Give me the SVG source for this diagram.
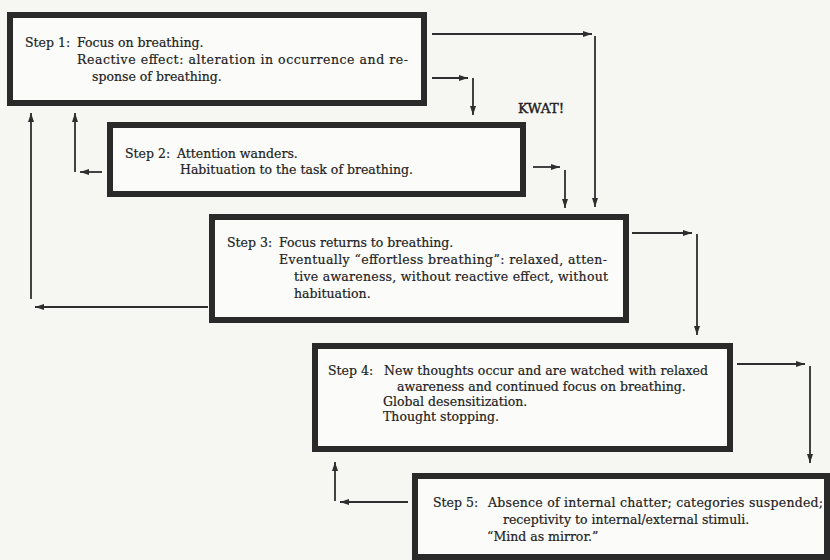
<svg xmlns="http://www.w3.org/2000/svg" width="830" height="560" viewBox="0 0 830 560">
<defs>
<marker id="ah" viewBox="0 0 9 6" refX="9" refY="3" markerWidth="9" markerHeight="6" orient="auto" markerUnits="userSpaceOnUse"><path d="M0,0 L9,3 L0,6 z" fill="#2e2e2e"/></marker>
<style>
.box{fill:#fbfbf9;stroke:#2a2a2a;stroke-width:6}
.t{font-family:"DejaVu Serif","Liberation Serif",serif;font-size:12.5px;fill:#222;stroke:#222;stroke-width:0.2}
.c{fill:none;stroke:#2e2e2e;stroke-width:1.8}
.a{marker-end:url(#ah)}
</style>
</defs>
<rect width="830" height="560" fill="#f6f6f3"/>
<g id="connectors">
<path class="c a" d="M432,34 H592"/>
<path class="c a" d="M595,36 V207"/>
<path class="c a" d="M432,78 H468"/>
<path class="c a" d="M473,78 V115"/>
<path class="c a" d="M533,167 H560"/>
<path class="c a" d="M565,170 V208"/>
<path class="c a" d="M632,233 H692"/>
<path class="c a" d="M697,234 V335"/>
<path class="c a" d="M737,364 H805"/>
<path class="c a" d="M810,366 V463"/>
<path class="c a" d="M102,172 H80"/>
<path class="c a" d="M75,172 V113"/>
<path class="c a" d="M208,307 H35"/>
<path class="c a" d="M31,299 V113"/>
<path class="c a" d="M408,502 H340"/>
<path class="c a" d="M335,501 V462"/>
</g>
<g id="step1">
<rect class="box" x="10" y="15" width="414" height="88"/>
<text class="t" x="25" y="47">Step 1:</text>
<text class="t" x="77" y="47">Focus on breathing.</text>
<text class="t" x="77" y="64" textLength="331" lengthAdjust="spacing">Reactive effect: alteration in occurrence and re-</text>
<text class="t" x="92" y="81">sponse of breathing.</text>
</g>
<g id="kwat">
<text class="t" x="518" y="113" style="font-size:13.5px;stroke-width:0.4">KWAT!</text>
</g>
<g id="step2">
<rect class="box" x="110" y="125" width="413" height="69"/>
<text class="t" x="125" y="158">Step 2:</text>
<text class="t" x="177" y="158">Attention wanders.</text>
<text class="t" x="180" y="174">Habituation to the task of breathing.</text>
</g>
<g id="step3">
<rect class="box" x="212" y="217" width="414" height="103"/>
<text class="t" x="227" y="247">Step 3:</text>
<text class="t" x="279" y="247">Focus returns to breathing.</text>
<text class="t" x="279" y="264" textLength="328" lengthAdjust="spacing">Eventually “effortless breathing”: relaxed, atten-</text>
<text class="t" x="294" y="281" textLength="314" lengthAdjust="spacing">tive awareness, without reactive effect, without</text>
<text class="t" x="294" y="298">habituation.</text>
</g>
<g id="step4">
<rect class="box" x="315" y="346" width="415" height="103"/>
<text class="t" x="328" y="375">Step 4:</text>
<text class="t" x="384" y="375" textLength="324" lengthAdjust="spacing">New thoughts occur and are watched with relaxed</text>
<text class="t" x="397" y="391">awareness and continued focus on breathing.</text>
<text class="t" x="383" y="406">Global desensitization.</text>
<text class="t" x="383" y="421">Thought stopping.</text>
</g>
<g id="step5">
<rect class="box" x="415" y="476" width="412" height="81"/>
<text class="t" x="433" y="507">Step 5:</text>
<text class="t" x="488" y="507" textLength="335" lengthAdjust="spacing">Absence of internal chatter; categories suspended;</text>
<text class="t" x="503" y="524">receptivity to internal/external stimuli.</text>
<text class="t" x="487" y="541">“Mind as mirror.”</text>
</g>
</svg>
